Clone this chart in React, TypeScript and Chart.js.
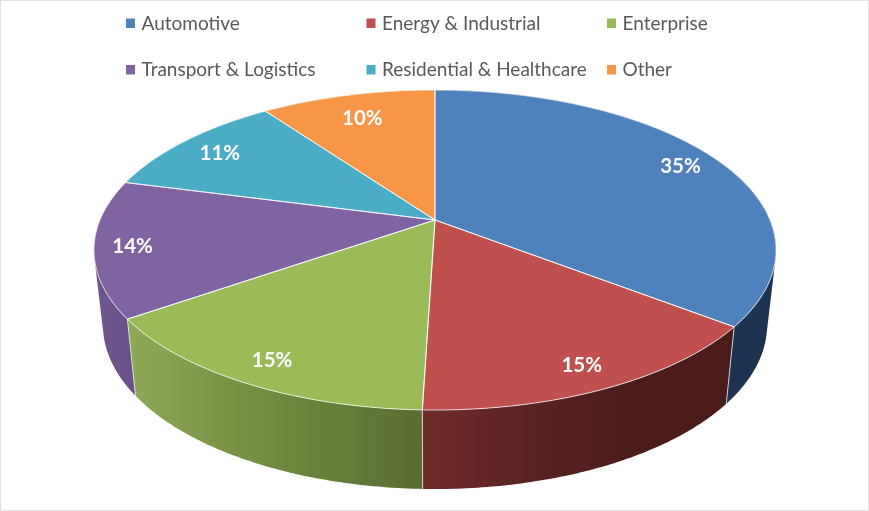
import React, { useEffect, useRef } from "react";
import { Chart, registerables } from "chart.js";

Chart.register(...registerables);

const categories = ["Automotive", "Energy & Industrial", "Enterprise", "Transport & Logistics", "Residential & Healthcare", "Other"];
const shares = [35.49, 15, 14.8, 13.8, 11, 9.91];
const faceColors = ["#4f81bd", "#c0504d", "#9bbb59", "#8064a2", "#4bacc6", "#f79646"];
const sideStops: string[][] = [
  ["#1c3450", "#1c3450"],
  ["#6f2b2b", "#5a2323", "#4a1d1b", "#4a1d1b"],
  ["#8ea957", "#7a9446", "#67803a", "#596c33"],
  ["#6f5690", "#6a5187"],
  ["#2f6f80", "#2f6f80"],
  ["#a8642e", "#a8642e"],
];
const labelRadii = [0.875, 0.875, 0.875, 0.89, 0.85, 0.81];

// Perspective of the disc: apex, half-width, height and vanishing factor.
const APEX_X = 435, APEX_Y = 220, B = 335, A = 154.4, K = -0.1875;
const project = (X: number, Y: number) => {
  const d = 1 + K * Y;
  return { x: APEX_X + (B * X) / d, y: APEX_Y + (A * Y) / d };
};
const onRim = (a: number, r = 1) => project(r * Math.cos(a), r * Math.sin(a));
// Lower rim: the top ellipse (centre 435,250, radii 341x160) re-mapped to the bottom one.
const lower = (a: number) => {
  const p = onRim(a);
  const u = (p.x - 435) / 341, v = (p.y - 250) / 160;
  return { x: 435 + 332 * u, y: 325 + 164 * v };
};

const legendCols = [126, 366.5, 607];
const legendRows = [18.5, 65];

const pie3d = {
  id: "pie3d",
  beforeDatasetsDraw(chart: any) {
    const ctx: CanvasRenderingContext2D = chart.ctx;
    const arcs = chart.getDatasetMeta(0).data as any[];
    const order = arcs.map((_, i) => i).sort(
      (p, q) =>
        Math.sin((arcs[p].startAngle + arcs[p].endAngle) / 2) -
        Math.sin((arcs[q].startAngle + arcs[q].endAngle) / 2)
    );
    const samples = (s: number, e: number) => {
      const n = Math.max(8, Math.ceil((e - s) * 80));
      return Array.from({ length: n + 1 }, (_, i) => s + ((e - s) * i) / n);
    };

    // outer wall: one path of small, equally wound quads, so the sweep reaches the silhouette
    for (const i of order) {
      const { startAngle: s, endAngle: e } = arcs[i];
      const angs = samples(s, e);
      const top = angs.map((a) => onRim(a));
      const low = angs.map((a) => lower(a));
      const xs = [...top, ...low].map((p) => p.x);
      const x0 = Math.min(...xs), x1 = Math.max(...xs);
      const g = ctx.createLinearGradient(x0, 0, x1, 0);
      sideStops[i].forEach((c, k, all) => g.addColorStop(k / (all.length - 1), c));
      ctx.beginPath();
      for (let k = 0; k < angs.length - 1; k++) {
        let q = [top[k], top[k + 1], low[k + 1], low[k]];
        const area = q.reduce((sum, p, j) => {
          const n = q[(j + 1) % 4];
          return sum + p.x * n.y - n.x * p.y;
        }, 0);
        if (area < 0) q = q.reverse();
        q.forEach((p, j) => (j ? ctx.lineTo(p.x, p.y) : ctx.moveTo(p.x, p.y)));
        ctx.closePath();
      }
      ctx.fillStyle = g;
      ctx.fill("nonzero");
    }
    // wall seams
    ctx.strokeStyle = "rgba(235,235,235,0.8)";
    ctx.lineWidth = 1;
    for (const arc of arcs) {
      if (Math.sin(arc.startAngle) > 0) {
        const a = onRim(arc.startAngle), b = lower(arc.startAngle);
        ctx.beginPath();
        ctx.moveTo(a.x, a.y);
        ctx.lineTo(b.x, b.y);
        ctx.stroke();
      }
    }
    // top faces
    arcs.forEach((arc, i) => {
      const pts = samples(arc.startAngle, arc.endAngle).map((a) => onRim(a));
      ctx.beginPath();
      ctx.moveTo(APEX_X, APEX_Y);
      pts.forEach((p) => ctx.lineTo(p.x, p.y));
      ctx.closePath();
      ctx.fillStyle = faceColors[i];
      ctx.fill();
    });
    arcs.forEach((arc) => {
      const pts = samples(arc.startAngle, arc.endAngle).map((a) => onRim(a));
      ctx.beginPath();
      ctx.moveTo(APEX_X, APEX_Y);
      pts.forEach((p) => ctx.lineTo(p.x, p.y));
      ctx.closePath();
      ctx.strokeStyle = "rgba(255,255,255,0.75)";
      ctx.lineWidth = 1;
      ctx.stroke();
    });
    // value labels
    const total = shares.reduce((a, b) => a + b, 0);
    ctx.font = "bold 20.5px Lato";
    ctx.fillStyle = "#ffffff";
    ctx.textAlign = "center";
    ctx.textBaseline = "middle";
    arcs.forEach((arc, i) => {
      const p = onRim((arc.startAngle + arc.endAngle) / 2, labelRadii[i]);
      ctx.fillText(`${Math.round((shares[i] / total) * 100)}%`, p.x, p.y + 2);
    });
    // legend
    ctx.font = "19px Lato";
    ctx.textAlign = "left";
    ctx.textBaseline = "alphabetic";
    categories.forEach((name, i) => {
      const x = legendCols[i % 3], y = legendRows[Math.floor(i / 3)];
      ctx.fillStyle = faceColors[i];
      ctx.fillRect(x, y, 9, 9.5);
      ctx.fillStyle = "#595959";
      ctx.fillText(name, x + 15.5, y + 11);
    });
    // frame
    ctx.strokeStyle = "#e2e2e2";
    ctx.lineWidth = 1;
    ctx.strokeRect(0.5, 0.5, 868, 510);
    return false;
  },
};

export default function App() {
  const ref = useRef<HTMLCanvasElement>(null);
  useEffect(() => {
    const chart = new Chart(ref.current!, {
      type: "pie",
      data: {
        labels: categories,
        datasets: [{ data: shares, backgroundColor: faceColors, borderColor: "#ffffff", borderWidth: 1 }],
      },
      options: {
        responsive: false,
        animation: false,
        plugins: { legend: { display: false }, tooltip: { enabled: false } },
      },
      plugins: [pie3d],
    } as any);
    return () => chart.destroy();
  }, []);
  return (
    <div style={{ position: "absolute", left: 0, top: 0, width: 869, height: 511 }}>
      <canvas ref={ref} width={869} height={511} style={{ display: "block" }} />
    </div>
  );
}
